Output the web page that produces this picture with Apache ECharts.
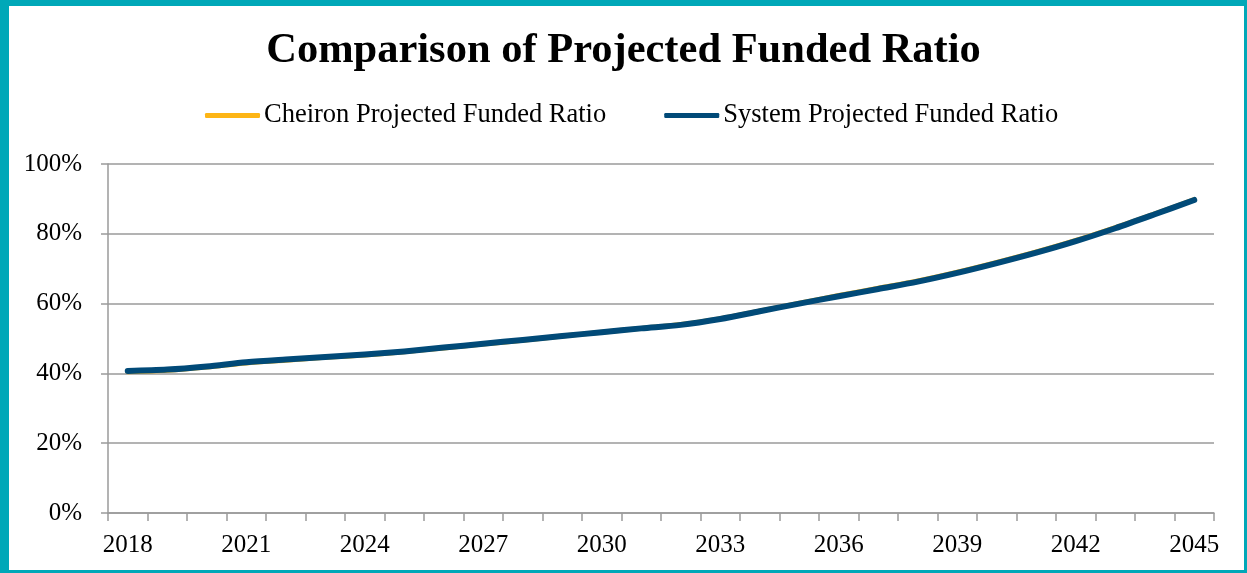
<!DOCTYPE html>
<html>
<head>
<meta charset="utf-8">
<script src="https://cdn.jsdelivr.net/npm/echarts@6/dist/echarts.min.js"></script>
<style>
html,body{margin:0;padding:0;background:#fff;}
#frame{position:absolute;left:0;top:0;width:1247px;height:573px;box-sizing:border-box;border-style:solid;border-color:#00A8B8;border-width:6px 3px 3px 9px;}
#chart{position:absolute;left:0;top:0;width:1247px;height:573px;}
</style>
</head>
<body>
<div id="chart"></div>
<div id="frame"></div>
<script>
const years = ['2018','2019','2020','2021','2022','2023','2024','2025','2026','2027','2028','2029','2030','2031','2032','2033','2034','2035','2036','2037','2038','2039','2040','2041','2042','2043','2044','2045'];
const cheironRatio = [40.5,40.9,41.8,43.0,43.8,44.6,45.3,46.2,47.3,48.4,49.5,50.7,51.8,52.9,54.0,55.7,57.9,60.1,62.3,64.4,66.5,69.0,71.8,74.8,78.1,81.8,85.7,89.8];
const systemRatio  = [40.7,41.1,42.0,43.2,44.0,44.7,45.4,46.3,47.4,48.5,49.6,50.7,51.8,52.9,53.9,55.6,57.8,60.0,62.1,64.2,66.3,68.8,71.6,74.6,77.9,81.6,85.6,89.7];
const yTicks = [0,20,40,60,80,100];

const serif = "'Liberation Serif','Times New Roman',serif";
const chart = echarts.init(document.getElementById('chart'));
chart.setOption({
  backgroundColor:'#fff',
  animation:false,
  title:{
    text:'Comparison of Projected Funded Ratio',
    left:'center', top:25,
    textStyle:{fontFamily:serif,fontSize:42.5,fontWeight:'bold',color:'#000'}
  },
  legend:{
    top:97, left:200,
    itemWidth:55, itemHeight:5, itemGap:58,
    icon:'roundRect',
    textStyle:{fontFamily:serif,fontSize:26.5,color:'#000',padding:[0,0,0,-1]},
    data:['Cheiron Projected Funded Ratio','System Projected Funded Ratio']
  },
  grid:{left:108,right:33,top:164,bottom:60,containLabel:false},
  xAxis:{
    type:'category', data:years, boundaryGap:true,
    axisLine:{lineStyle:{color:'#9a9a9a',width:1.5}},
    axisTick:{show:true,interval:0,length:8,lineStyle:{color:'#9a9a9a',width:1.5}},
    axisLabel:{interval:2,margin:20,fontFamily:serif,fontSize:25,color:'#000'},
    splitLine:{show:false}
  },
  yAxis:{
    type:'value', min:yTicks[0], max:yTicks[yTicks.length-1], interval:20,
    axisLine:{show:true,lineStyle:{color:'#9a9a9a',width:1.5}},
    axisTick:{show:true,length:7,lineStyle:{color:'#9a9a9a',width:1.5}},
    axisLabel:{formatter:'{value}%',margin:26,fontFamily:serif,fontSize:25,color:'#000'},
    splitLine:{show:true,lineStyle:{color:'#9a9a9a',width:1.5}}
  },
  series:[
    {name:'Cheiron Projected Funded Ratio',type:'line',data:cheironRatio,symbol:'none',smooth:0.3,
     itemStyle:{color:'#FDB515'},
     lineStyle:{color:'#FDB515',width:5,cap:'round',join:'round'}},
    {name:'System Projected Funded Ratio',type:'line',data:systemRatio,symbol:'none',smooth:0.3,
     itemStyle:{color:'#014A78'},
     lineStyle:{color:'#014A78',width:6,cap:'round',join:'round'}}
  ]
});
</script>
</body>
</html>
